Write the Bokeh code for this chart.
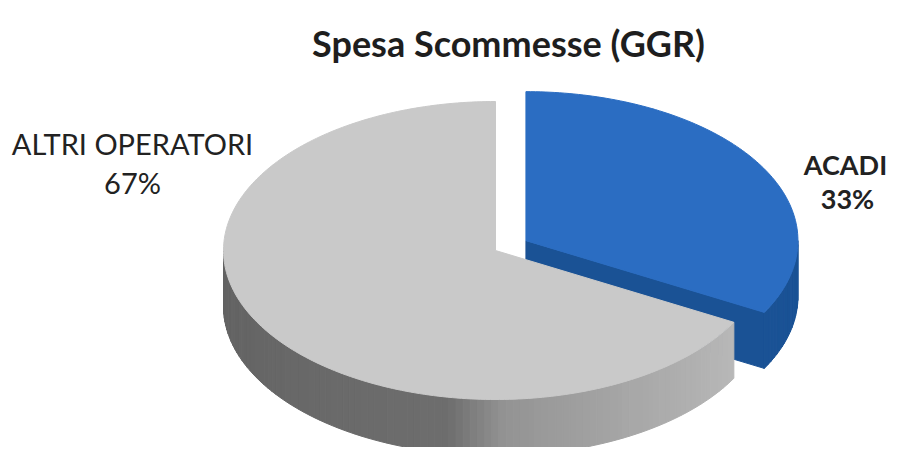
import numpy as np
from bokeh.plotting import figure
from bokeh.models import Range1d
from bokeh.core.properties import value
from bokeh.embed import file_html
from bokeh.resources import INLINE

# ---- data ----
title_text = "Spesa Scommesse (GGR)"
categories = ["ACADI", "ALTRI OPERATORI"]
shares = [33, 67]
pct_labels = ["33%", "67%"]

# ---- styles / layout ----
top_colors = ["#2b6dc2", "#c9c9c9"]
side_colors = ["#1a5295", None]  # None -> gradient gray
explode = [0.13, 0.0]
W, H = 890, 447
CX, CY, RX, RY, DEPTH = 495, 250, 272, 149, 56

p = figure(width=W, height=H, x_range=Range1d(0, W), y_range=Range1d(H, 0),
           output_backend="svg", toolbar_location=None,
           x_axis_location=None, y_axis_location=None, min_border=0)
p.grid.visible = False
p.outline_line_color = None
p.background_fill_color = "white"


def pt(theta_deg, ox, oy):
    t = np.radians(theta_deg)
    return CX + ox + RX * np.cos(t), CY + oy - RY * np.sin(t)


def gray_side(theta):
    # theta in [-180, 0]
    knots_a = [-180, -100, -88, -60, -28, 0]
    knots_v = [98, 110, 148, 168, 185, 190]
    v = int(np.interp(theta, knots_a, knots_v))
    return "#%02x%02x%02x" % (v, v, v)


total = float(sum(shares))
start = 90.0
slices = []
for i, s in enumerate(shares):
    span = 360.0 * s / total
    a0, a1 = start, start - span  # clockwise
    mid = (a0 + a1) / 2
    ox = explode[i] * RX * np.cos(np.radians(mid))
    oy = -explode[i] * RY * np.sin(np.radians(mid))
    slices.append((a0, a1, ox, oy))
    start = a1

for i in range(len(shares)):
    a0, a1, ox, oy = slices[i]
    xs, ys, cols = [], [], []
    # radial faces
    for edge, vis in ((a1, np.cos(np.radians(a1)) > 1e-6), (a0, np.cos(np.radians(a0)) < -1e-6)):
        if vis:
            x1, y1 = CX + ox, CY + oy
            x2, y2 = pt(edge, ox, oy)
            xs.append([x1, x2, x2, x1])
            ys.append([y1, y2, y2 + DEPTH, y1 + DEPTH])
            cols.append(side_colors[i] or "#a8a8a8")
    # outer side wall: front half (angles -180..0 mod 360)
    for shift in (0, -360, 360):
        lo = max(a1, -180 + shift)
        hi = min(a0, 0 + shift)
        if hi > lo:
            n = max(2, int((hi - lo) / 1.5))
            angs = np.linspace(lo, hi, n + 1)
            for k in range(n):
                b0, b1 = angs[k], angs[k + 1]
                xa, ya = pt(b0, ox, oy)
                xb, yb = pt(b1, ox, oy)
                xs.append([xa, xb, xb, xa])
                ys.append([ya, yb, yb + DEPTH, ya + DEPTH])
                c = side_colors[i] or gray_side((b0 + b1) / 2 - shift)
                cols.append(c)
    if xs:
        p.patches(xs=xs, ys=ys, fill_color=cols, line_color=cols, line_width=1)
    # top face
    angs = np.linspace(a1, a0, max(3, int((a0 - a1) / 1.0)))
    tx = [CX + ox] + [pt(a, ox, oy)[0] for a in angs]
    ty = [CY + oy] + [pt(a, ox, oy)[1] for a in angs]
    p.patch(tx, ty, fill_color=top_colors[i], line_color=top_colors[i], line_width=1)

# ---- texts ----
p.text(x=[508], y=[42], text=[title_text], text_font=value("Lato"),
       text_font_style="bold", text_font_size="36px", text_color="#1e1e1e",
       text_align="center", text_baseline="alphabetic")

p.text(x=[132, 132], y=[143, 182], text=[categories[1], pct_labels[1]],
       text_font=value("Lato"), text_font_size="29px", text_color="#222222",
       text_align="center", text_baseline="alphabetic")
p.text(x=[845, 847], y=[164, 198], text=[categories[0], pct_labels[0]],
       text_font=value("Lato"), text_font_style="bold", text_font_size="27px",
       text_color="#222222", text_align="center", text_baseline="alphabetic")

open("out.html", "w").write(file_html(p, INLINE))
